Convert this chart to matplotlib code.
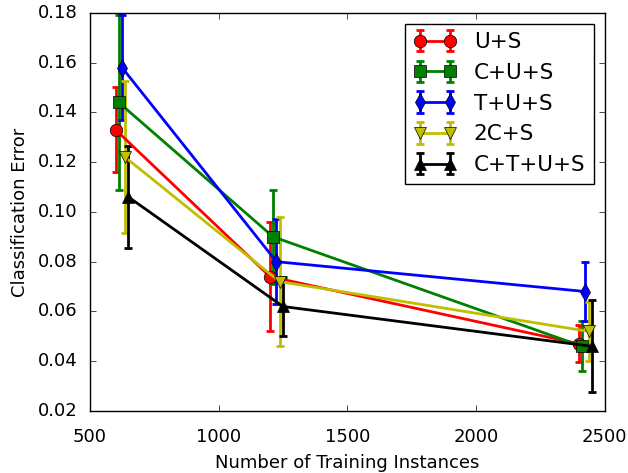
import numpy as np
import matplotlib
matplotlib.use('Agg')
import matplotlib.pyplot as plt

plt.style.use('classic')

labels = ['U+S', 'C+U+S', 'T+U+S', '2C+S', 'C+T+U+S']
colors = ['r', 'g', 'b', 'y', 'k']
markers = ['o', 's', 'd', 'v', '^']

# training set sizes (slightly shifted per method so the bars do not overlap)
x_us = [600, 1200, 2400]
x_cus = [612, 1212, 2412]
x_tus = [625, 1225, 2425]
x_2cs = [637, 1237, 2437]
x_ctus = [650, 1250, 2450]

# mean classification error
y_us = [0.133, 0.074, 0.047]
y_cus = [0.144, 0.090, 0.046]
y_tus = [0.158, 0.080, 0.068]
y_2cs = [0.122, 0.072, 0.052]
y_ctus = [0.106, 0.062, 0.046]

# error bar half-widths
e_us = [0.017, 0.022, 0.0075]
e_cus = [0.035, 0.019, 0.010]
e_tus = [0.021, 0.017, 0.012]
e_2cs = [0.0305, 0.026, 0.012]
e_ctus = [0.0205, 0.012, 0.0185]

xs = [x_us, x_cus, x_tus, x_2cs, x_ctus]
ys = [y_us, y_cus, y_tus, y_2cs, y_ctus]
es = [e_us, e_cus, e_tus, e_2cs, e_ctus]

fig = plt.figure(figsize=(6.28, 4.73), dpi=100, facecolor='white')
ax = fig.add_subplot(111)
fig.subplots_adjust(left=0.143, right=0.963, bottom=0.131, top=0.973)

for x, y, e, c, m, lab in zip(xs, ys, es, colors, markers, labels):
    ax.errorbar(x, y, yerr=e, color=c, ecolor=c, marker=m, markersize=9,
                markeredgecolor='k', linewidth=2, elinewidth=2, capsize=3,
                capthick=2, label=lab)

ax.set_xlim(500, 2500)
ax.set_ylim(0.02, 0.18)
ax.set_xticks([500, 1000, 1500, 2000, 2500])
ax.set_yticks(np.arange(0.02, 0.181, 0.02))
ax.set_yticklabels(['%.2f' % v for v in np.arange(0.02, 0.181, 0.02)])
ax.tick_params(labelsize=13)
ax.tick_params(axis='x', pad=12)
ax.tick_params(axis='y', pad=9)
ax.set_xlabel('Number of Training Instances', fontsize=13, labelpad=6)
ax.set_ylabel('Classification Error', fontsize=13, labelpad=6)
ax.legend(loc='upper right', numpoints=2, fontsize=15.5)

fig.savefig('out.png', dpi=100, facecolor='white')
